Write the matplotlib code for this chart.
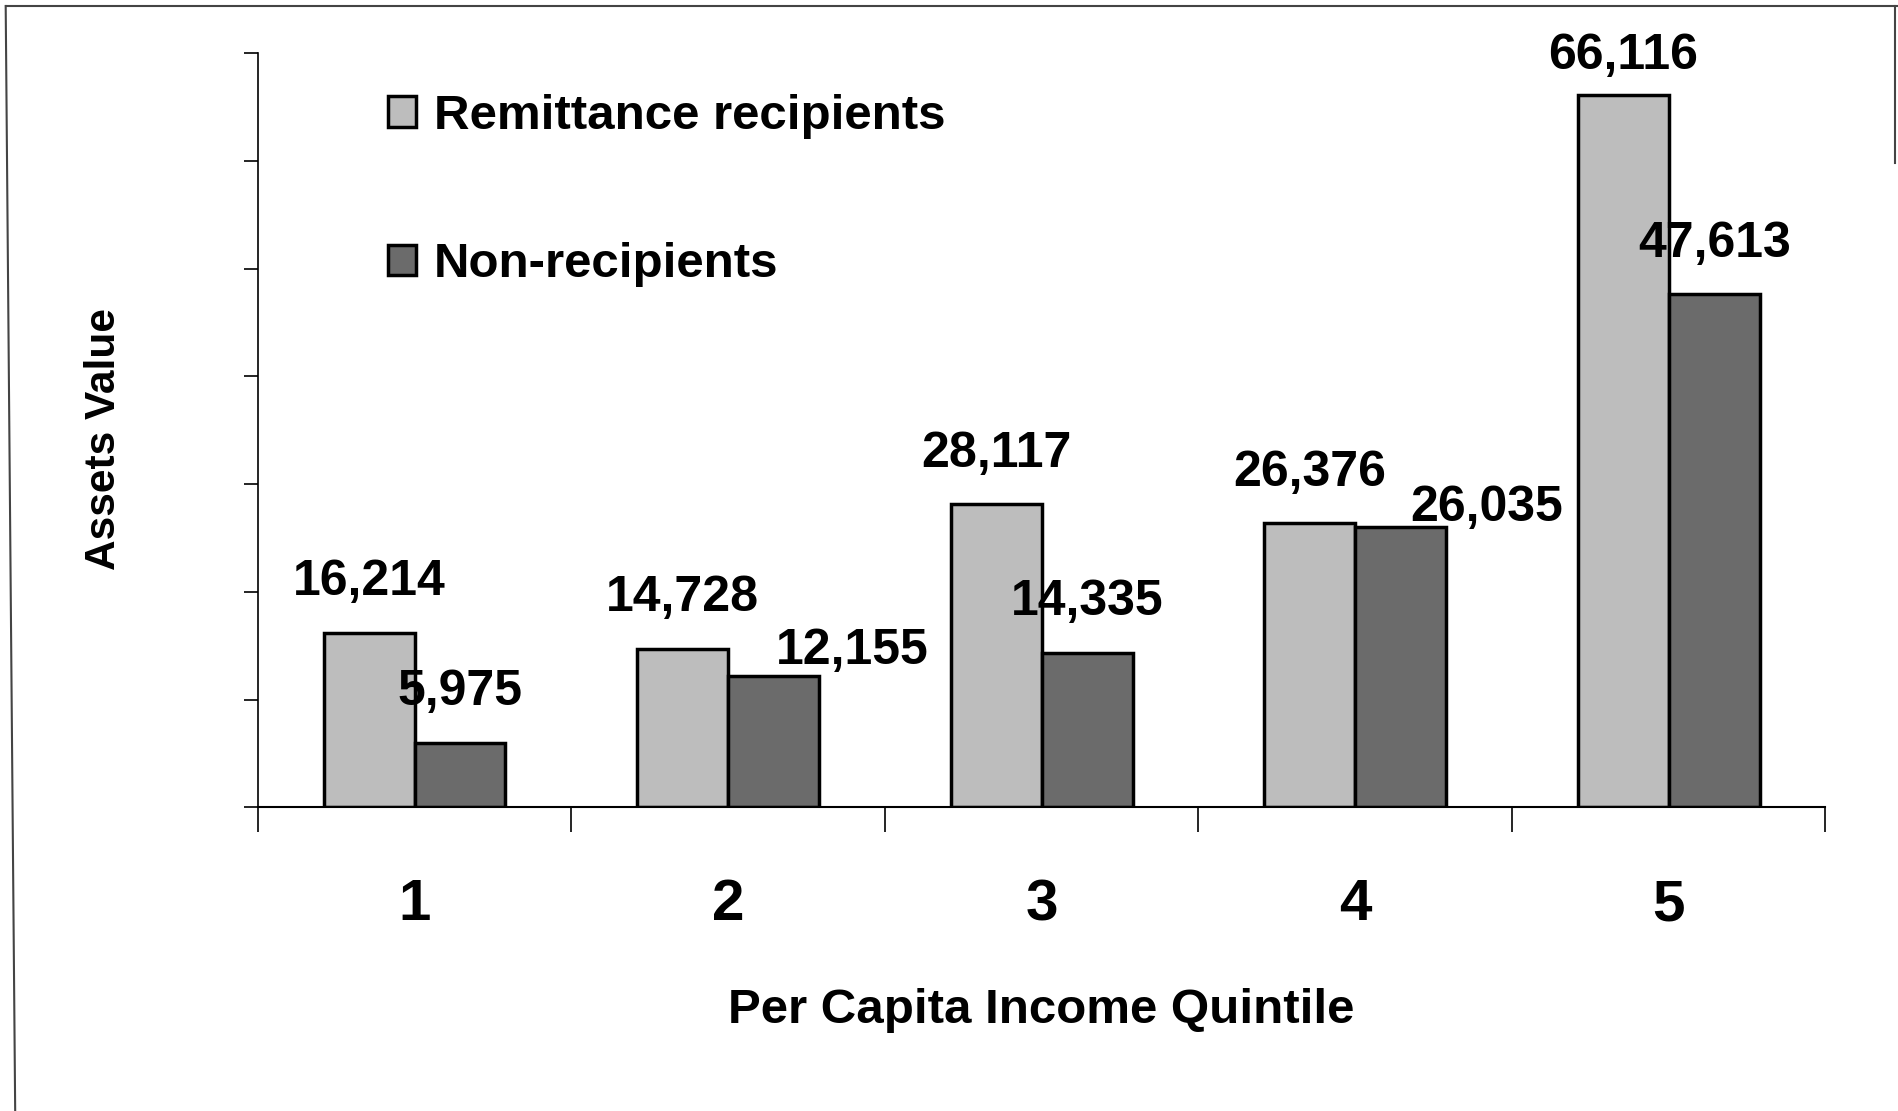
import numpy as np
import matplotlib.pyplot as plt
from matplotlib.lines import Line2D

quintiles = ["1", "2", "3", "4", "5"]
recipients = [16214, 14728, 28117, 26376, 66116]
non_recipients = [5975, 12155, 14335, 26035, 47613]
series_names = ["Remittance recipients", "Non-recipients"]

plt.rcParams['font.family'] = ['Liberation Sans', 'DejaVu Sans']
plt.rcParams['font.weight'] = 'bold'

fig = plt.figure(figsize=(18.98, 11.11), dpi=100)
ax = fig.add_axes([0.1358, 0.2733, 0.826, 0.6788])

x = np.arange(1, len(quintiles) + 1)
w = 0.29
b1 = ax.bar(x - w / 2, recipients, w, color='#bdbdbd', edgecolor='black', linewidth=2.5, label=series_names[0])
b2 = ax.bar(x + w / 2, non_recipients, w, color='#6b6b6b', edgecolor='black', linewidth=2.5, label=series_names[1])

ax.set_xlim(0.5, 5.5)
ax.set_ylim(0, 70000)
ax.set_yticks(np.arange(0, 70001, 10000))
ax.set_yticklabels([])
ax.set_xticks(np.arange(0.5, 5.6, 1))
ax.set_xticklabels([])
ax.set_xticks(x, minor=True)
ax.set_xticklabels(quintiles, minor=True, fontsize=42, fontweight='bold')
ax.tick_params(axis='x', which='minor', length=0, pad=51)
ax.tick_params(axis='x', which='major', length=18, width=1.2, direction='out')
ax.tick_params(axis='y', length=10, width=1.2, direction='out')
for s in ['top', 'right']:
    ax.spines[s].set_visible(False)
ax.spines['left'].set_linewidth(1.2)
ax.spines['bottom'].set_linewidth(1.5)

# data labels: (dx, dy) nudges in points, Excel moved a few to avoid overlap
nudges = {(0, 4): (0, -8), (1, 1): (57, -18), (1, 3): (62, -23)}
for si, (bars, vals) in enumerate([(b1, recipients), (b2, non_recipients)]):
    for i, (r, v) in enumerate(zip(bars, vals)):
        dx, dy = nudges.get((si, i), (0, 0))
        ax.annotate(f"{v:,}", (r.get_x() + r.get_width() / 2, v),
                    xytext=(dx, 27 + dy), textcoords='offset points',
                    ha='center', va='baseline', fontsize=36, fontweight='bold',
                    annotation_clip=False)

ax.set_xlabel("Per Capita Income Quintile", fontsize=35.5, fontweight='bold', labelpad=40)
ax.set_ylabel("Assets Value", fontsize=30.5, fontweight='bold', labelpad=83)
ax.yaxis.label.set_y(0.488)

ax.legend(frameon=False, loc='upper left', bbox_to_anchor=(0.055, 1.005),
          handlelength=0.57, handleheight=0.57, handletextpad=0.35,
          labelspacing=2.1, prop={'weight': 'bold', 'size': 35.5})

# page border from the scan
fig.add_artist(Line2D([0.003, 0.9995], [0.9946, 0.9946], color='#444444', lw=1.5, transform=fig.transFigure))
fig.add_artist(Line2D([0.003, 0.008], [0.9946, 0.0], color='#444444', lw=1.5, transform=fig.transFigure))
fig.add_artist(Line2D([0.9985, 0.9985], [0.853, 0.9946], color='#444444', lw=1.5, transform=fig.transFigure))

fig.savefig("out.png", dpi=100)
